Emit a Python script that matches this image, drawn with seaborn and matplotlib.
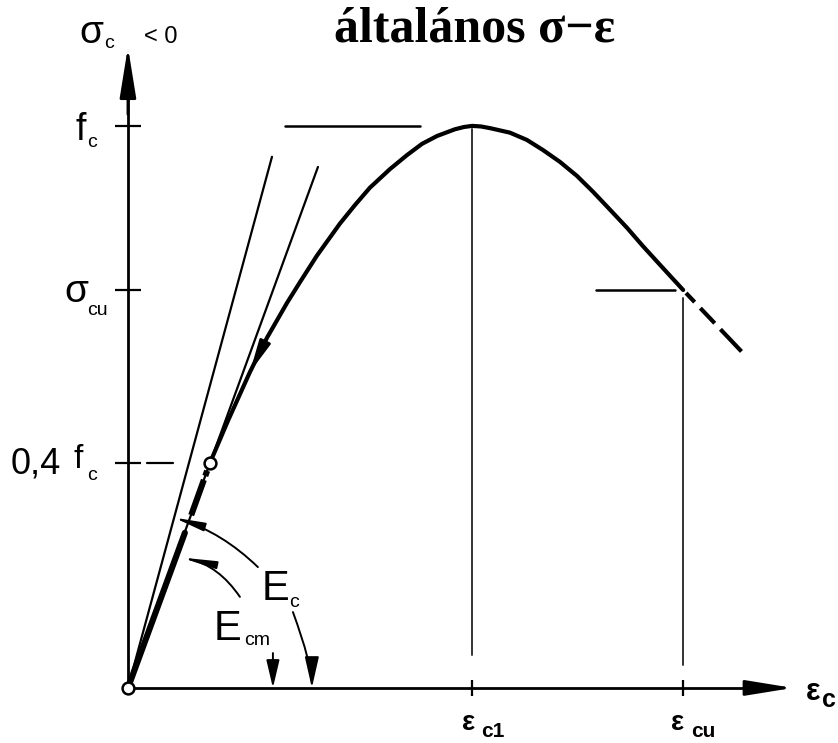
import matplotlib
matplotlib.use("Agg")
import matplotlib.pyplot as plt
from matplotlib.patches import FancyArrowPatch, ArrowStyle
import pandas as pd
import seaborn as sns

# ---- diagram values: strain in per mille, stress as a fraction of f_c ----
eps_c1 = 2.20
eps_cu = 3.55
sig_fc = 1.00
sig_cu = 0.708
sig_04 = 0.40

# general concrete stress-strain curve
curve_eps = [0.000, 0.364, 0.524, 0.639, 0.780, 0.889, 1.017, 1.100, 1.208,
             1.355, 1.451, 1.547, 1.675, 1.784, 1.880, 1.976, 2.091, 2.148,
             2.200, 2.257, 2.315, 2.442, 2.551, 2.654, 2.762, 2.871, 2.973,
             3.082, 3.190, 3.293, 3.421, 3.550, 3.932]
curve_sig = [0.000, 0.276, 0.400, 0.475, 0.562, 0.623, 0.685, 0.722, 0.769,
             0.826, 0.859, 0.890, 0.923, 0.948, 0.968, 0.982, 0.994, 0.998,
             1.000, 0.999, 0.996, 0.988, 0.975, 0.957, 0.936, 0.911, 0.883,
             0.851, 0.819, 0.786, 0.747, 0.708, 0.596]

# initial tangent (E_c) and secant through 0.4 f_c (E_cm)
tangent_eps = [0.0, 0.921]
tangent_sig = [0.0, 0.945]
secant_eps = [0.0, 1.215]
secant_sig = [0.0, 0.927]

# guide lines
fc_guide_eps = [1.004, 1.867]
cu_guide_eps = [2.993, 3.498]
c1_drop_sig = [0.059, 0.995]
cu_drop_sig = [0.041, 0.694]
q04_guide_eps = [0.12, 0.29]

# strain at which the E_c / E_cm angle arrows meet the strain axis
ec_angle_eps = 1.176
ecm_angle_eps = 0.927

# axis extents
x_axis_end = 4.252
y_axis_end = 1.1406

DPI = 100
sns.set_theme(style="white")
plt.rcParams["font.family"] = ["Liberation Sans Narrow", "Liberation Sans", "DejaVu Sans"]
plt.rcParams["lines.scale_dashes"] = False
plt.rcParams["text.color"] = "black"

fig = plt.figure(figsize=(838 / DPI, 743 / DPI), dpi=DPI)
ax = fig.add_axes([0, 0, 1, 1])
ax.set_xlim(-0.818, 4.540)
ax.set_ylim(-0.098, 1.224)
ax.set_facecolor("white")

# axes through the origin
for side in ["top", "right"]:
    ax.spines[side].set_visible(False)
for side in ["left", "bottom"]:
    ax.spines[side].set_position(("data", 0))
    ax.spines[side].set_color("black")
    ax.spines[side].set_linewidth(2.0)
    ax.spines[side].set_zorder(3)
ax.spines["left"].set_bounds(0, y_axis_end - 0.05)
ax.spines["bottom"].set_bounds(0, x_axis_end - 0.15)
ax.set_xticks([eps_c1, eps_cu])
ax.set_yticks([sig_04, sig_cu, sig_fc])
ax.tick_params(axis="y", direction="inout", length=19, width=1.6, color="black",
               labelleft=False, left=True)
ax.tick_params(axis="x", direction="inout", length=12, width=1.6, color="black",
               labelbottom=False, bottom=True)


def arrow(a, b, hl, hw, lw=1.5, conn="arc3,rad=0", z=4):
    style = ArrowStyle("-|>", head_length=hl, head_width=hw)
    p = FancyArrowPatch(a, b, arrowstyle=style, mutation_scale=1, color="black",
                        lw=lw, shrinkA=0, shrinkB=0, connectionstyle=conn, zorder=z)
    ax.add_patch(p)


arrow((0, y_axis_end - 0.12), (0, y_axis_end), 31, 5, lw=2.0)
arrow((x_axis_end - 0.3, 0), (x_axis_end, 0), 29, 4.7, lw=2.0)

# guide lines
ax.plot(fc_guide_eps, [sig_fc, sig_fc], color="black", lw=1.8, zorder=2)
ax.plot(cu_guide_eps, [sig_cu, sig_cu], color="black", lw=1.8, zorder=2)
ax.plot([eps_c1, eps_c1], c1_drop_sig, color="#333333", lw=1.4, zorder=2)
ax.plot([eps_cu, eps_cu], cu_drop_sig, color="#333333", lw=1.4, zorder=2)
ax.plot(q04_guide_eps, [sig_04, sig_04], color="black", lw=1.6, zorder=2)

# tangent and secant lines
ax.plot(tangent_eps, tangent_sig, color="black", lw=1.6, zorder=2)
ax.plot(secant_eps, secant_sig, color="black", lw=1.6, zorder=2)

# stress-strain curve in four pieces
df = pd.DataFrame({"eps": curve_eps, "sig": curve_sig})
i04 = curve_sig.index(sig_04)
icu = curve_eps.index(eps_cu)
sns.lineplot(data=df.iloc[:i04], x="eps", y="sig", sort=False, estimator=None,
             ax=ax, color="black", lw=4.4, solid_capstyle="round", zorder=3)
sns.lineplot(data=df.iloc[i04 - 1:i04 + 1], x="eps", y="sig", sort=False, estimator=None,
             ax=ax, color="black", lw=4.4, zorder=3,
             linestyle=(34, (27, 3, 4, 13.5)), dash_capstyle="butt")
sns.lineplot(data=df.iloc[i04:icu + 1], x="eps", y="sig", sort=False, estimator=None,
             ax=ax, color="black", lw=3.0, solid_capstyle="round",
             solid_joinstyle="round", zorder=3)
sns.lineplot(data=df.iloc[icu:], x="eps", y="sig", sort=False, estimator=None,
             ax=ax, color="black", lw=3.0, zorder=3,
             linestyle=(58, (9, 6, 15, 6, 22, 3)), dash_capstyle="butt")
ax.set_xlabel("")
ax.set_ylabel("")

# direction arrow on the ascending branch
arrow((curve_eps[5], curve_sig[5]), (curve_eps[4], curve_sig[4]), 19, 3.5, lw=2.0)

# open circles at the origin and at 0.4 f_c
ax.plot([0, curve_eps[i04]], [0, curve_sig[i04]], ls="none", marker="o", ms=8.5,
        mfc="white", mec="black", mew=1.8, zorder=6)

# modulus annotations
arrow((0.831, 0.215), (0.295, 0.303), 18, 2.5, lw=1.4, conn="arc3,rad=0.12")
arrow((1.055, 0.135), (ec_angle_eps, 0.0), 19, 4.3, lw=1.4,
      conn="angle3,angleA=-70,angleB=90")
arrow((0.716, 0.162), (0.34, 0.232), 20, 2.2, lw=1.4, conn="arc3,rad=0.2")
arrow((ecm_angle_eps, 0.062), (ecm_angle_eps, 0.0), 17, 4.0, lw=1.4)

PT = 72 / DPI


def label(txt, xy, dx, dy, size, weight="normal"):
    ax.annotate(txt, xy=xy, xytext=(dx * PT, -dy * PT), textcoords="offset points",
                ha="left", va="baseline", fontsize=size, fontweight=weight,
                color="black", zorder=7)


# stress axis labels
label("σ", (0, y_axis_end), -49, -4, 28)
label("c", (0, y_axis_end), -24, 1, 14)
label("< 0", (0, y_axis_end), 16, -4, 17)
label("f", (0, sig_fc), -52, 14, 27)
label("c", (0, sig_fc), -41, 21, 14)
label("σ", (0, sig_cu), -64, 12, 28)
label("cu", (0, sig_cu), -41, 25, 14)
label("0,4", (0, sig_04), -117, 10, 26)
label("f", (0, sig_04), -54, 5, 24)
label("c", (0, sig_04), -41, 17, 14)

# strain axis labels
label("ε", (eps_c1, 0), -10, 42, 20, "bold")
label("c1", (eps_c1, 0), 9, 49, 15, "bold")
label("ε", (eps_cu, 0), -12, 42, 20, "bold")
label("cu", (eps_cu, 0), 8, 49, 15, "bold")
label("ε", (x_axis_end, 0), 13, 12, 22, "bold")
label("c", (x_axis_end, 0), 29, 19, 18, "bold")

# moduli
label("E", (0, 0), 134, -88, 30)
label("c", (0, 0), 161, -81, 14)
label("E", (0, 0), 86, -48, 30)
label("cm", (0, 0), 116, -43, 14)

fig.text(475 / 838, 1 - 42 / 743, "általános σ−ε", ha="center", va="baseline",
         fontsize=36, fontweight="bold", color="black",
         family=["Liberation Serif", "DejaVu Serif"])

fig.savefig("out.png", dpi=DPI, facecolor="white")
